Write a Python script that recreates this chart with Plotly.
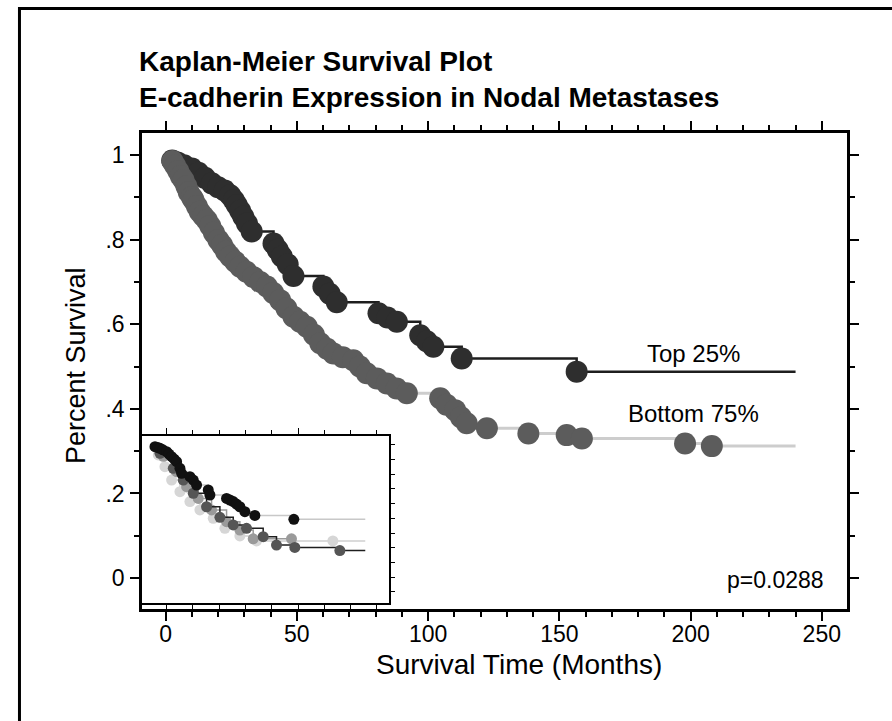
import plotly.graph_objects as go

# ---------------- data ----------------
follow_up_end = 240

top_times = [2.5, 4.5, 7, 10, 12.5, 15, 17.6, 20, 22.5, 24.6, 26, 27.1, 28.4, 29.6, 31, 32.8,
             41.1, 42.7, 44.3, 46.5, 48.7, 60.1, 62.5, 65.2, 81.1, 84.5, 88.1, 97, 99.5,
             102, 112.8, 156.6]
top_surv = [0.987, 0.982, 0.976, 0.968, 0.958, 0.946, 0.933, 0.924, 0.916, 0.905, 0.893, 0.882,
            0.868, 0.854, 0.838, 0.819, 0.791, 0.776, 0.760, 0.742, 0.714, 0.689, 0.672, 0.652,
            0.626, 0.616, 0.606, 0.574, 0.560, 0.547, 0.519, 0.488]

bottom_times = [2.6, 3.6, 4.8, 5.8, 6.8, 7.9, 8.8, 10.0, 10.6, 11.9, 13.0, 14.3, 15.7, 17.0,
                18.4, 20.1, 21.5, 23.0, 24.6, 26.5, 28.4, 30.8, 33.4, 36.0, 38.6, 41.0, 43.6,
                46.0, 48.7, 51.2, 53.8, 56.5, 58.9, 61.5, 63.9, 67.5, 71.5, 74.0, 76.6, 80.5,
                84.3, 88.0, 91.9, 104.6, 107.0, 110.3, 112.5, 114.7, 122.4, 138.2, 152.8,
                158.6, 197.9, 208.1]
bottom_surv = [0.986, 0.975, 0.962, 0.950, 0.941, 0.926, 0.912, 0.900, 0.894, 0.879,
               0.866, 0.856, 0.846, 0.832, 0.816, 0.799, 0.787, 0.772, 0.760, 0.748, 0.736,
               0.724, 0.712, 0.700, 0.689, 0.674, 0.657, 0.638, 0.618, 0.606, 0.594, 0.575,
               0.555, 0.542, 0.531, 0.522, 0.515, 0.500, 0.484, 0.472, 0.460, 0.448, 0.437,
               0.425, 0.410, 0.397, 0.380, 0.366, 0.354, 0.342, 0.338, 0.330, 0.318, 0.312]

# inset: four quartile groups
q4_times = [0, 3, 5.7, 9, 13.3, 16, 19, 22, 24.7, 28.5, 30.4, 39.9, 43.7, 47.5, 60.8, 62.7,
            81.7, 85.5, 89.3, 93, 96.9, 102.6, 114, 158.5]
q4_surv = [0.988, 0.983, 0.977, 0.967, 0.954, 0.938, 0.92, 0.903, 0.886, 0.841, 0.807, 0.784,
           0.761, 0.727, 0.693, 0.659, 0.636, 0.625, 0.614, 0.597, 0.579, 0.545, 0.52, 0.493]
q3_times = [5.7, 20.9, 32.3, 43.7, 58.9, 74.1, 89.3, 104.5, 123.5, 138.7, 159.6, 211]
q3_surv = [0.943, 0.841, 0.761, 0.671, 0.579, 0.507, 0.455, 0.432, 0.375, 0.318, 0.302, 0.28]
q2_times = [9.5, 24.7, 36.1, 49.4, 64.6, 81.7, 96.9, 112.1, 155.8]
q2_surv = [0.923, 0.818, 0.716, 0.636, 0.557, 0.477, 0.42, 0.36, 0.36]
q1_times = [3.8, 11.4, 19, 28.5, 39.9, 51.3, 66.5, 79.8, 96.9, 115.9, 203]
q1_surv = [0.932, 0.852, 0.761, 0.682, 0.614, 0.557, 0.50, 0.432, 0.38, 0.346, 0.346]

x_ticks = [0, 50, 100, 150, 200, 250]
y_ticks = [0, 0.2, 0.4, 0.6, 0.8, 1.0]
y_tick_text = ["0", ".2", ".4", ".6", ".8", "1"]

title_text = "Kaplan-Meier Survival Plot<br>E-cadherin Expression in Nodal Metastases"
x_title = "Survival Time (Months)"
y_title = "Percent Survival"
label_top = "Top 25%"
label_bottom = "Bottom 75%"
p_text = "p=0.0288"

FONT = "Liberation Sans, Arial, Helvetica, sans-serif"


def km_line(times, surv, end=None):
    xs = [0] + list(times)
    ys = [1.0] + list(surv)
    if end is not None:
        xs.append(end)
        ys.append(surv[-1])
    return xs, ys


fig = go.Figure()

# ---- main curves ----
lx, ly = km_line(top_times, top_surv, follow_up_end)
fig.add_trace(go.Scatter(x=lx, y=ly, mode="lines", line=dict(shape="hv", color="#1e1e1e", width=2.5),
                         hoverinfo="skip", showlegend=False))
lx, ly = km_line(bottom_times, bottom_surv, follow_up_end)
fig.add_trace(go.Scatter(x=lx, y=ly, mode="lines", line=dict(shape="hv", color="#cdcdcd", width=3),
                         hoverinfo="skip", showlegend=False))
fig.add_trace(go.Scatter(x=top_times, y=top_surv, mode="markers",
                         marker=dict(size=22, color="#2e2e2e", line=dict(width=0)),
                         name=label_top, showlegend=False))
fig.add_trace(go.Scatter(x=bottom_times, y=bottom_surv, mode="markers",
                         marker=dict(size=22, color="#5c5c5c", line=dict(width=0)),
                         name=label_bottom, showlegend=False))

# ---- inset curves ----
inset_specs = [
    (q1_times, q1_surv, "#cfcfcf", "#d6d6d6", follow_up_end),
    (q2_times, q2_surv, "#9a9a9a", "#9a9a9a", None),
    (q3_times, q3_surv, "#1e1e1e", "#555555", follow_up_end),
    (q4_times, q4_surv, "#c8c8c8", "#111111", follow_up_end),
]
for t, s, lc, mc, end in inset_specs:
    lx, ly = km_line(t, s, end)
    fig.add_trace(go.Scatter(x=lx, y=ly, xaxis="x2", yaxis="y2", mode="lines",
                             line=dict(shape="hv", color=lc, width=1.5),
                             hoverinfo="skip", showlegend=False))
    fig.add_trace(go.Scatter(x=t, y=s, xaxis="x2", yaxis="y2", mode="markers",
                             marker=dict(size=11, color=mc), showlegend=False))

axis_common = dict(showgrid=False, zeroline=False, showline=True, linecolor="black",
                   linewidth=2.5, mirror="allticks", ticks="outside", ticklen=9, tickwidth=2,
                   tickcolor="black", tickfont=dict(family=FONT, size=23, color="black"))

fig.update_layout(
    width=892, height=721,
    margin=dict(l=142, r=45, t=133, b=112),
    paper_bgcolor="white", plot_bgcolor="white",
    font=dict(family=FONT, color="black"),
    title=dict(text="<b>" + title_text + "</b>", font=dict(family=FONT, size=28, color="black"),
               xref="container", x=139 / 892, xanchor="left",
               yref="container", y=1 - 71 / 721, yanchor="top"),
    xaxis=dict(range=[-9, 259.6], tickvals=x_ticks, ticklabelstandoff=-6,
               minor=dict(dtick=10, ticklen=5, tickwidth=2, tickcolor="black", ticks="outside"),
               **axis_common),
    yaxis=dict(range=[-0.073, 1.052], tickvals=y_ticks, ticktext=y_tick_text,
               ticklabelstandoff=1,
               minor=dict(dtick=0.1, ticklen=5, tickwidth=2, tickcolor="black", ticks="outside"),
               **axis_common),
    xaxis2=dict(domain=[0, 0.35], anchor="y2", range=[-14.8, 266.8], showgrid=False,
                zeroline=False, showline=True, linecolor="black", linewidth=1.5,
                mirror="allticks", ticks="outside", ticklen=6, tickwidth=1.2, tickcolor="black",
                tick0=13.3, dtick=150, showticklabels=False,
                minor=dict(tick0=13.3, dtick=30, ticklen=4, tickwidth=1.2, tickcolor="black",
                           ticks="outside")),
    yaxis2=dict(domain=[0.012, 0.3634], anchor="x2", range=[-0.079, 1.061], side="right",
                showgrid=False, zeroline=False, showline=True, linecolor="black", linewidth=1.5,
                mirror=True, ticks="outside", ticklen=4, tickwidth=1.2, tickcolor="black",
                tick0=0, dtick=0.1, showticklabels=False),
    annotations=[
        dict(text=label_top, x=201, y=0.532, xref="x", yref="y", showarrow=False,
             font=dict(family=FONT, size=24, color="black")),
        dict(text=label_bottom, x=201.3, y=0.39, xref="x", yref="y", showarrow=False,
             font=dict(family=FONT, size=24, color="black")),
        dict(text=p_text, x=251.6, y=-0.005, xref="x", yref="y", showarrow=False,
             xanchor="right", font=dict(family=FONT, size=23, color="black")),
        dict(text=x_title, x=0.535, y=-0.1176, xref="paper", yref="paper", showarrow=False,
             yanchor="middle", font=dict(family=FONT, size=28, color="black")),
        dict(text=y_title, x=-0.0936, y=0.5105, xref="paper", yref="paper", showarrow=False,
             textangle=-90, xanchor="center", yanchor="middle",
             font=dict(family=FONT, size=27, color="black")),
    ],
    shapes=[
        dict(type="rect", xref="paper", yref="paper", x0=-0.1738, x1=1.075, y0=-0.254, y1=1.2616,
             line=dict(color="black", width=3), fillcolor="rgba(0,0,0,0)", layer="below"),
    ],
)

fig.write_html("out.html")
